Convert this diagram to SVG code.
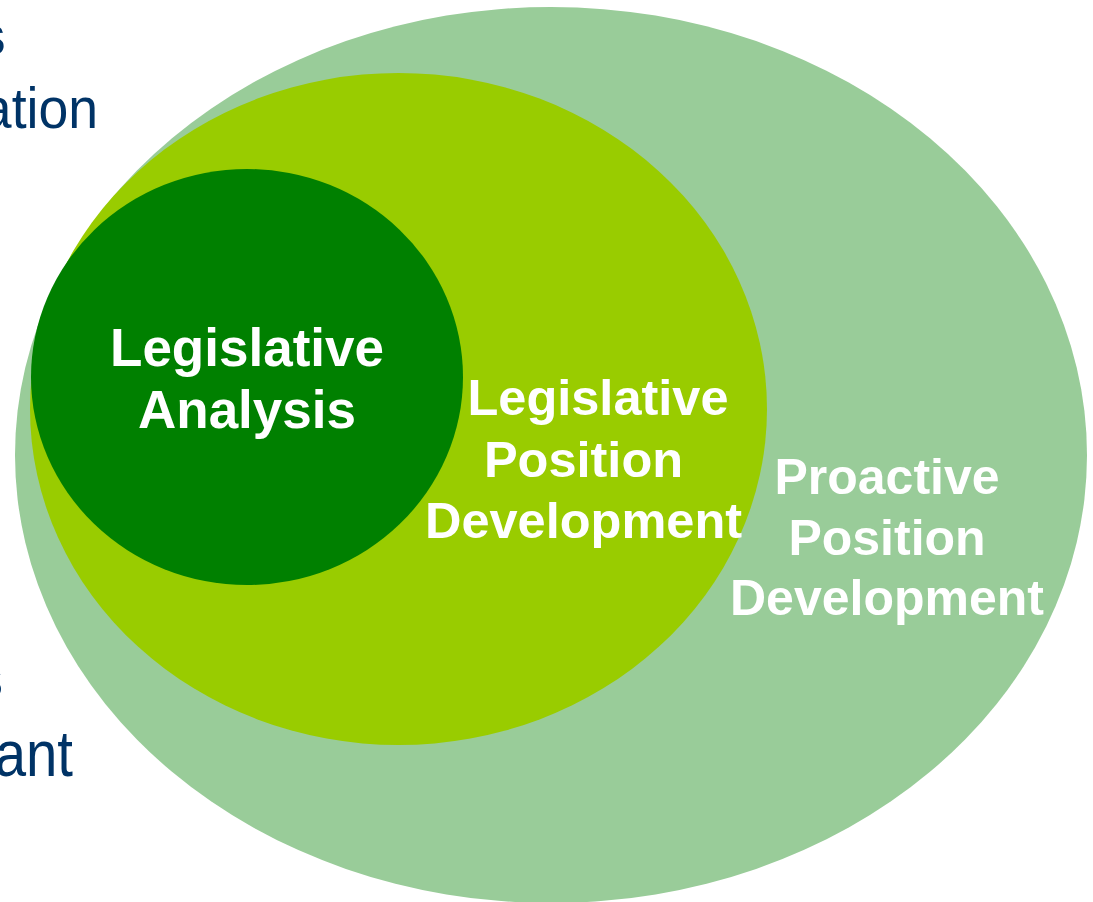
<svg xmlns="http://www.w3.org/2000/svg" width="1093" height="902" viewBox="0 0 1093 902">
<style>
.lbl{font-family:"Liberation Sans",Arial,sans-serif;font-weight:bold;fill:#ffffff;text-anchor:middle}
.side{font-family:"Liberation Sans",Arial,sans-serif;fill:#003366;text-anchor:end}
</style>
<rect width="1093" height="902" fill="#ffffff"/>
<g id="side-text">
<text class="side" transform="translate(6,55)" font-size="58" font-weight="bold">s</text>
<text class="side" transform="translate(98,128) scale(0.94,1)" font-size="57">ation</text>
<text class="side" transform="translate(3,697)" font-size="56">s</text>
<text class="side" transform="translate(73,776) scale(0.88,1)" font-size="64">ant</text>
</g>
<g id="proactive">
<ellipse cx="551" cy="455" rx="536" ry="448" fill="#99CC99"/>
<text class="lbl" font-size="50"><tspan x="887" y="494">Proactive</tspan><tspan x="887" y="555">Position</tspan><tspan x="887" y="615">Development</tspan></text>
</g>
<g id="legislative-position">
<ellipse cx="398.5" cy="409" rx="368.5" ry="336" fill="#99CC00"/>
<text class="lbl" font-size="50.5"><tspan x="598" y="415">Legislative</tspan><tspan x="583.5" y="477">Position</tspan><tspan x="583.5" y="538">Development</tspan></text>
</g>
<g id="legislative-analysis">
<ellipse cx="247" cy="377" rx="216" ry="208" fill="#008000"/>
<text class="lbl" font-size="53"><tspan x="247" y="366">Legislative</tspan><tspan x="247" y="428">Analysis</tspan></text>
</g>
<g id="connectors"/>
</svg>
